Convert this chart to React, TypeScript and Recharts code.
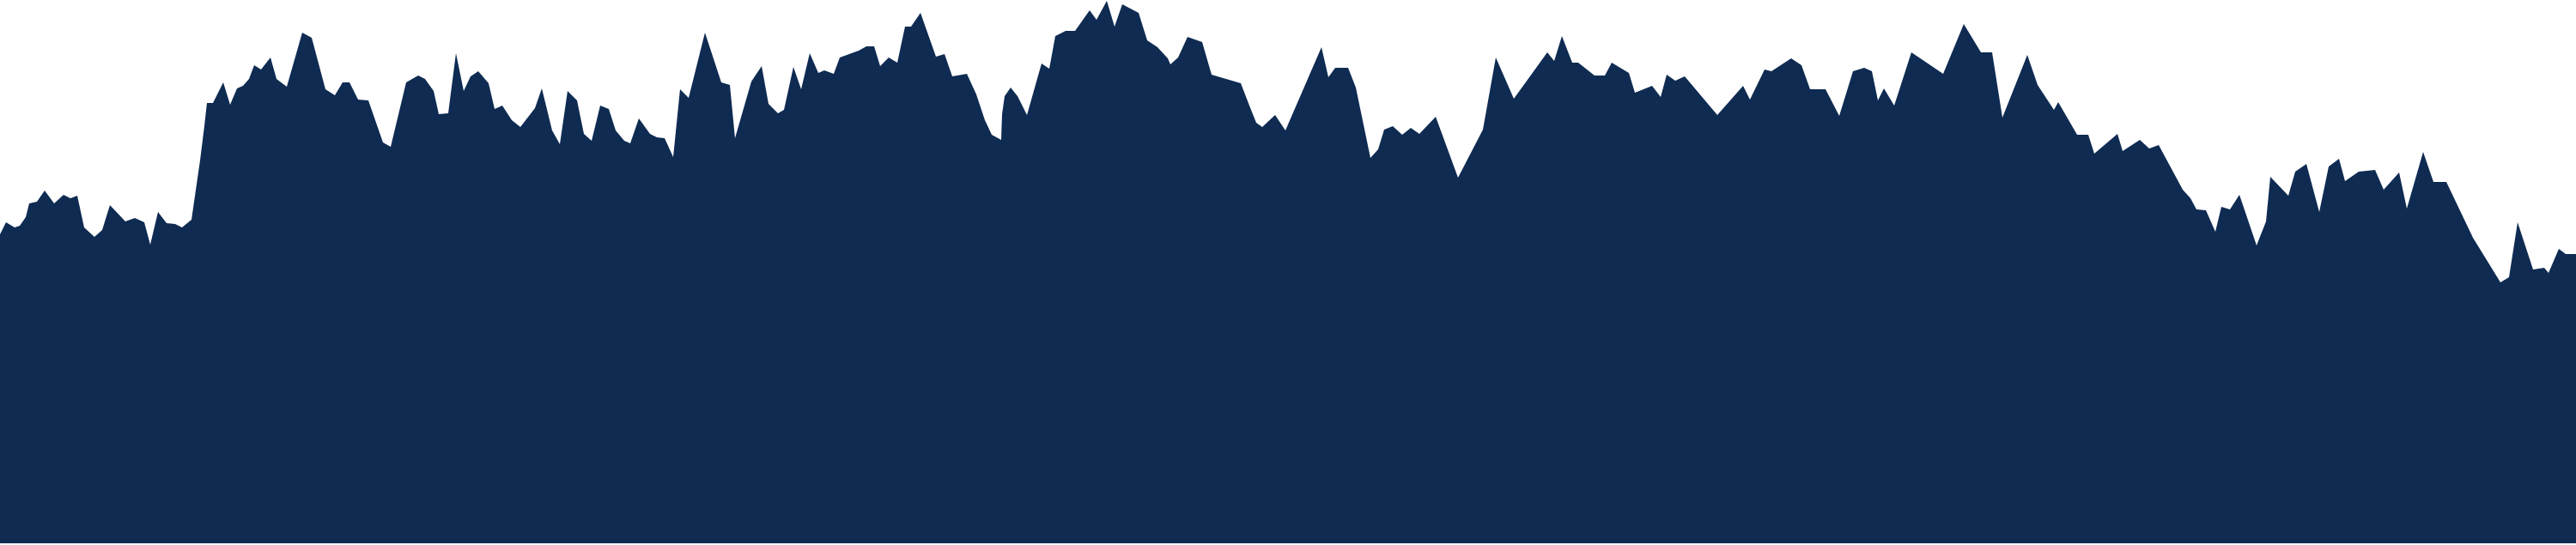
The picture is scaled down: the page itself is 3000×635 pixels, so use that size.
import { AreaChart, Area, XAxis, YAxis } from "recharts";

// horizontal position along the profile
const distance = [
  0, 7, 17, 23, 30, 34, 43, 52, 63, 74, 82, 90, 98, 110, 119, 128, 146, 157, 168, 175,
  184, 194, 204, 212, 223, 233, 238, 241, 248, 260, 268, 276, 283, 290, 296, 304, 315, 322, 334, 352,
  363, 379, 390, 399, 407, 417, 429, 446, 455, 473, 487, 495, 505, 511, 522, 531, 540, 548, 557, 569,
  576, 585, 596, 606, 623, 631, 643, 652, 661, 672, 680, 689, 699, 709, 717, 727, 734, 744, 757, 765,
  774, 784, 792, 802, 821, 840, 850, 856, 875, 887, 895, 906, 913, 924, 933, 943, 953, 960, 971, 978,
  1000, 1009, 1018, 1025, 1035, 1045, 1054, 1061, 1072, 1090, 1100, 1109, 1126, 1137, 1147, 1155, 1166, 1167, 1170, 1177,
  1185, 1196, 1213, 1222, 1229, 1241, 1252, 1269, 1277, 1289, 1298, 1307, 1326, 1336, 1348, 1360, 1363, 1372, 1383, 1400,
  1411, 1445, 1455, 1463, 1470, 1485, 1497, 1500, 1539, 1547, 1555, 1570, 1579, 1596, 1605, 1612, 1622, 1633, 1643, 1653,
  1672, 1698, 1727, 1742, 1763, 1802, 1810, 1819, 1831, 1838, 1857, 1869, 1877, 1897, 1904, 1924, 1934, 1941, 1951, 1962,
  2000, 2030, 2038, 2055, 2063, 2086, 2098, 2108, 2126, 2142, 2158, 2171, 2180, 2187, 2194, 2206, 2226, 2263, 2287, 2307,
  2320, 2332, 2361, 2373, 2392, 2397, 2419, 2432, 2439, 2466, 2472, 2492, 2503, 2514, 2542, 2551, 2558, 2569, 2580, 2587,
  2597, 2608, 2628, 2639, 2644, 2665, 2673, 2686, 2701, 2712, 2724, 2731, 2747, 2766, 2776, 2794, 2803, 2822, 2834, 2849,
  2880, 2912, 2922, 2932, 2950, 2963, 2968, 2980, 2988, 3000
];

// height of the profile at each position
const elevation = [
  360, 374, 368, 370, 380, 396, 398, 411, 396, 406, 402, 405, 368, 357, 365, 394, 375, 379, 374, 348,
  386, 373, 372, 368, 377, 446, 486, 513, 513, 537, 511, 530, 533, 541, 557, 552, 566, 541, 532, 595,
  589, 529, 522, 537, 537, 517, 516, 467, 462, 537, 545, 541, 527, 500, 501, 571, 527, 544, 550, 536,
  506, 510, 493, 485, 507, 530, 481, 465, 527, 516, 477, 469, 510, 506, 481, 469, 466, 495, 477, 473,
  472, 450, 529, 519, 595, 537, 534, 472, 538, 556, 512, 501, 505, 555, 529, 571, 548, 551, 547, 566,
  574, 579, 579, 556, 566, 560, 602, 602, 618, 567, 570, 544, 547, 523, 493, 476, 470, 500, 521, 531,
  521, 499, 559, 553, 591, 597, 597, 621, 610, 632, 602, 628, 618, 586, 578, 565, 558, 566, 590, 584,
  546, 536, 510, 490, 485, 499, 481, 488, 578, 543, 554, 554, 531, 449, 459, 482, 486, 476, 484, 477,
  497, 426, 482, 566, 518, 572, 562, 591, 560, 560, 545, 545, 560, 548, 525, 533, 520, 546, 539, 544,
  499, 533, 517, 552, 550, 565, 557, 529, 529, 498, 550, 554, 550, 516, 530, 510, 572, 547, 605, 572,
  572, 496, 569, 534, 505, 514, 476, 476, 454, 477, 457, 470, 460, 464, 412, 402, 389, 388, 363, 392,
  389, 406, 347, 375, 427, 405, 433, 442, 386, 439, 448, 422, 433, 435, 412, 432, 390, 456, 421, 421,
  356, 304, 310, 374, 319, 321, 315, 343, 337, 337
];

const data = distance.map((d, i) => ({ distance: d, elevation: elevation[i] }));

export default function App() {
  return (
    <div style={{ position: "absolute", left: 0, top: 0, width: 3000, height: 633 }}>
      <AreaChart
        width={3000}
        height={633}
        data={data}
        margin={{ top: 0, right: 0, left: 0, bottom: 0 }}
      >
        <XAxis dataKey="distance" type="number" domain={[0, 3000]} hide />
        <YAxis type="number" domain={[0, 633]} hide />
        <Area
          type="linear"
          dataKey="elevation"
          stroke="none"
          fill="#0f2b52"
          fillOpacity={1}
          dot={false}
          activeDot={false}
          isAnimationActive={false}
        />
      </AreaChart>
    </div>
  );
}
